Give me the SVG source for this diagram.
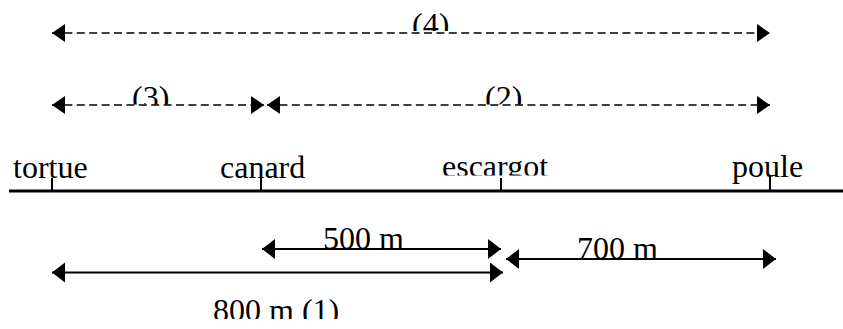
<svg xmlns="http://www.w3.org/2000/svg" width="843" height="329" viewBox="0 0 843 329">
<style>
.axis { stroke: #000; stroke-width: 3; fill: none; }
.tick { stroke: #000; stroke-width: 2; fill: none; }
.dash { stroke: #000; stroke-width: 1.6; stroke-dasharray: 8 4.4; fill: none; }
.solid { stroke: #000; stroke-width: 2; fill: none; }
</style>
<defs>
<marker id="hd" markerUnits="userSpaceOnUse" markerWidth="14" markerHeight="20" viewBox="0 0 14 20" refX="13" refY="9" orient="auto-start-reverse">
<path d="M0,0 L13,9 L0,18 Z" fill="#000"/>
</marker>
<marker id="hs" markerUnits="userSpaceOnUse" markerWidth="14" markerHeight="22" viewBox="0 0 14 22" refX="13" refY="10" orient="auto-start-reverse">
<path d="M0,0 L13,10 L0,20 Z" fill="#000"/>
</marker>
<clipPath id="c4"><rect x="0" y="0" width="843" height="31"/></clipPath>
<clipPath id="c23"><rect x="0" y="60" width="843" height="44.5"/></clipPath>
<clipPath id="cesc"><rect x="0" y="140" width="843" height="35.5"/></clipPath>
<clipPath id="c1"><rect x="0" y="290" width="843" height="29"/></clipPath>
</defs>

<g font-family="Liberation Serif, DejaVu Serif, serif" font-size="32" fill="#000">
<g id="axis">
<line class="axis" x1="9" y1="191" x2="843" y2="191"/>
</g>

<g id="tortue">
<text x="13" y="178">tortue</text>
<line class="tick" x1="52" y1="178" x2="52" y2="191"/>
</g>
<g id="canard">
<text x="220" y="178">canard</text>
<line class="tick" x1="261" y1="178" x2="261" y2="191"/>
</g>
<g id="escargot">
<text x="442" y="177" clip-path="url(#cesc)">escargot</text>
<line class="tick" x1="501" y1="178" x2="501" y2="191"/>
</g>
<g id="poule">
<text x="732" y="177">poule</text>
<line class="tick" x1="770" y1="177" x2="770" y2="191"/>
</g>

<g id="connectors">
<line class="dash" x1="52" y1="33" x2="770" y2="33" marker-start="url(#hd)" marker-end="url(#hd)"/>
<line class="dash" x1="52" y1="105" x2="264" y2="105" marker-start="url(#hd)" marker-end="url(#hd)"/>
<line class="dash" x1="267" y1="105" x2="770" y2="105" marker-start="url(#hd)" marker-end="url(#hd)"/>
<line class="solid" x1="262" y1="249" x2="501" y2="249" marker-start="url(#hs)" marker-end="url(#hs)"/>
<line class="solid" x1="506" y1="259" x2="776" y2="259" marker-start="url(#hs)" marker-end="url(#hs)"/>
<line class="solid" x1="52" y1="272.5" x2="503" y2="272.5" marker-start="url(#hs)" marker-end="url(#hs)"/>
</g>

<g id="labels">
<text x="412" y="35" clip-path="url(#c4)">(4)</text>
<text x="132" y="108" clip-path="url(#c23)">(3)</text>
<text x="485" y="108" clip-path="url(#c23)">(2)</text>
<text x="323" y="249">500 m</text>
<text x="577" y="259">700 m</text>
<text x="213" y="321" clip-path="url(#c1)">800 m (1)</text>
</g>
</g>
</svg>
